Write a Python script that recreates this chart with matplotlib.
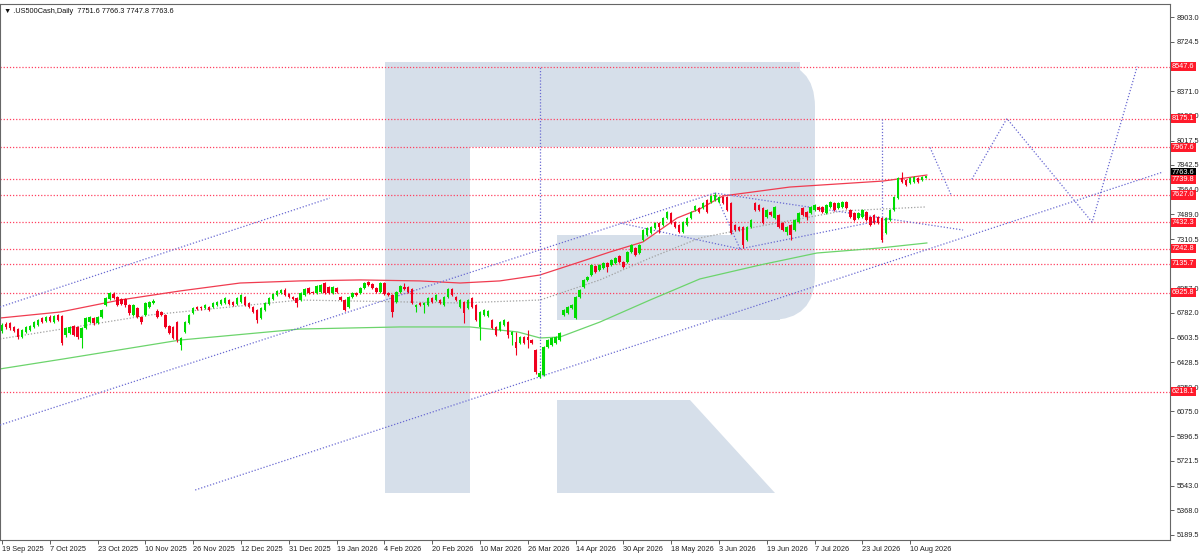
#!/usr/bin/python3

import matplotlib
matplotlib.use('Agg')
import matplotlib.pyplot as plt
from matplotlib.patches import Rectangle, Polygon, FancyBboxPatch
from matplotlib.transforms import Affine2D, blended_transform_factory


# daily candles, one per trading day starting 19 Sep 2025
opens = [
    6652, 6702, 6709, 6681, 6666, 6609, 6645, 6659, 6681, 6695,
    6745, 6724, 6752, 6716, 6767, 6760, 6623, 6638, 6688, 6681,
    6602, 6673, 6716, 6745, 6709, 6752, 6838, 6882, 6917, 6896,
    6882, 6882, 6838, 6767, 6817, 6752, 6767, 6824, 6853, 6795,
    6788, 6767, 6688, 6681, 6716, 6552, 6645, 6709, 6781, 6824,
    6824, 6817, 6824, 6824, 6838, 6846, 6853, 6874, 6860, 6846,
    6860, 6896, 6853, 6824, 6802, 6745, 6802, 6846, 6882, 6910,
    6924, 6946, 6917, 6896, 6889, 6874, 6910, 6960, 6932, 6924,
    6932, 6996, 6969, 6924, 6960, 6896, 6874, 6824, 6896, 6924,
    6924, 6960, 7003, 6989, 6960, 6932, 6996, 6924, 6910, 6860,
    6932, 6969, 6969, 6953, 6824, 6853, 6838, 6838, 6889, 6874,
    6874, 6838, 6896, 6953, 6896, 6824, 6860, 6817, 6889, 6838,
    6681, 6767, 6760, 6731, 6681, 6659, 6695, 6716, 6623, 6573,
    6566, 6609, 6609, 6587, 6516, 6322, 6337, 6537, 6552, 6566,
    6587, 6767, 6781, 6817, 6745, 6896, 6969, 7018, 7053, 7118,
    7089, 7104, 7139, 7125, 7139, 7190, 7147, 7147, 7218, 7247,
    7211, 7304, 7340, 7355, 7390, 7426, 7412, 7462, 7498, 7433,
    7412, 7362, 7412, 7462, 7519, 7534, 7534, 7591, 7577, 7591,
    7577, 7613, 7613, 7570, 7412, 7398, 7398, 7304, 7398, 7570,
    7555, 7534, 7469, 7505, 7462, 7484, 7426, 7362, 7412, 7376,
    7433, 7534, 7505, 7498, 7519, 7541, 7541, 7498, 7541, 7570,
    7534, 7541, 7577, 7519, 7498, 7462, 7469, 7505, 7469, 7484,
    7469, 7462, 7355, 7448, 7519, 7606, 7749, 7735, 7713, 7720,
    7749, 7735, 7751.6,
]
highs = [
    6709, 6716, 6716, 6688, 6673, 6666, 6688, 6695, 6724, 6738,
    6752, 6760, 6767, 6767, 6774, 6767, 6681, 6688, 6695, 6688,
    6681, 6752, 6760, 6752, 6760, 6810, 6896, 6932, 6932, 6903,
    6889, 6889, 6846, 6846, 6824, 6760, 6860, 6867, 6882, 6810,
    6795, 6774, 6695, 6688, 6724, 6609, 6724, 6774, 6824, 6831,
    6831, 6846, 6831, 6860, 6867, 6882, 6896, 6882, 6867, 6896,
    6917, 6903, 6860, 6831, 6810, 6824, 6860, 6896, 6924, 6946,
    6953, 6960, 6924, 6903, 6896, 6932, 6960, 6969, 6939, 6982,
    6989, 7003, 6975, 6975, 6969, 6903, 6882, 6903, 6932, 6932,
    6969, 7003, 7011, 6996, 6969, 7003, 7003, 6932, 6917, 6939,
    6982, 6996, 6975, 6960, 6846, 6860, 6860, 6896, 6896, 6917,
    6882, 6903, 6960, 6960, 6903, 6882, 6867, 6882, 6896, 6846,
    6795, 6810, 6802, 6738, 6688, 6724, 6738, 6724, 6652, 6645,
    6616, 6616, 6659, 6595, 6523, 6365, 6544, 6595, 6609, 6616,
    6645, 6810, 6831, 6846, 6903, 6953, 7025, 7046, 7132, 7125,
    7132, 7147, 7147, 7168, 7182, 7197, 7154, 7225, 7276, 7254,
    7276, 7383, 7398, 7405, 7433, 7433, 7469, 7512, 7505, 7441,
    7419, 7441, 7469, 7512, 7555, 7541, 7577, 7598, 7627, 7641,
    7620, 7620, 7620, 7577, 7419, 7405, 7405, 7405, 7455, 7577,
    7563, 7541, 7527, 7512, 7548, 7491, 7433, 7405, 7419, 7455,
    7505, 7541, 7512, 7548, 7563, 7548, 7548, 7563, 7584, 7577,
    7577, 7584, 7584, 7527, 7505, 7505, 7527, 7512, 7476, 7491,
    7476, 7469, 7469, 7527, 7620, 7756, 7792, 7742, 7756, 7763,
    7756, 7763, 7766.3,
]
lows = [
    6638, 6666, 6659, 6645, 6595, 6602, 6638, 6652, 6673, 6688,
    6709, 6716, 6716, 6709, 6724, 6552, 6609, 6630, 6616, 6595,
    6530, 6666, 6709, 6695, 6702, 6745, 6831, 6874, 6882, 6831,
    6838, 6824, 6767, 6760, 6745, 6702, 6760, 6817, 6846, 6745,
    6760, 6673, 6630, 6595, 6573, 6516, 6638, 6702, 6774, 6802,
    6802, 6810, 6795, 6817, 6831, 6838, 6846, 6838, 6831, 6838,
    6853, 6831, 6817, 6781, 6709, 6738, 6795, 6838, 6874, 6903,
    6917, 6903, 6889, 6874, 6824, 6867, 6903, 6917, 6917, 6917,
    6924, 6917, 6917, 6917, 6924, 6867, 6795, 6817, 6889, 6903,
    6917, 6953, 6975, 6953, 6924, 6924, 6910, 6903, 6752, 6853,
    6924, 6946, 6924, 6846, 6788, 6831, 6781, 6831, 6853, 6867,
    6846, 6831, 6889, 6903, 6867, 6817, 6709, 6810, 6817, 6724,
    6587, 6760, 6752, 6666, 6616, 6652, 6688, 6602, 6552, 6480,
    6559, 6559, 6530, 6559, 6344, 6315, 6330, 6530, 6544, 6559,
    6580, 6760, 6774, 6810, 6738, 6889, 6960, 7011, 7046, 7068,
    7082, 7097, 7075, 7118, 7132, 7139, 7104, 7139, 7211, 7190,
    7204, 7297, 7333, 7347, 7383, 7355, 7405, 7455, 7419, 7390,
    7355, 7355, 7405, 7455, 7512, 7498, 7527, 7498, 7570, 7584,
    7570, 7563, 7512, 7347, 7369, 7369, 7247, 7297, 7390, 7512,
    7512, 7419, 7462, 7476, 7455, 7390, 7369, 7340, 7304, 7369,
    7426, 7476, 7448, 7491, 7512, 7512, 7498, 7491, 7534, 7512,
    7527, 7534, 7527, 7462, 7441, 7455, 7462, 7441, 7405, 7419,
    7419, 7290, 7347, 7441, 7512, 7598, 7713, 7691, 7706, 7713,
    7713, 7727, 7747.8,
]
closes = [
    6695, 6681, 6673, 6652, 6609, 6659, 6681, 6688, 6716, 6731,
    6716, 6752, 6724, 6760, 6731, 6566, 6673, 6681, 6623, 6609,
    6673, 6745, 6752, 6709, 6752, 6802, 6889, 6924, 6889, 6838,
    6846, 6838, 6781, 6838, 6752, 6716, 6853, 6860, 6867, 6752,
    6767, 6681, 6638, 6602, 6587, 6602, 6716, 6767, 6817, 6810,
    6817, 6838, 6802, 6853, 6860, 6874, 6889, 6846, 6838, 6889,
    6910, 6838, 6824, 6788, 6731, 6817, 6853, 6889, 6917, 6939,
    6946, 6910, 6896, 6882, 6853, 6924, 6953, 6924, 6924, 6975,
    6982, 6924, 6924, 6969, 6932, 6874, 6802, 6896, 6924, 6910,
    6960, 6996, 6982, 6960, 6932, 6996, 6917, 6910, 6788, 6932,
    6975, 6953, 6932, 6853, 6838, 6838, 6853, 6889, 6860, 6910,
    6853, 6896, 6953, 6910, 6874, 6874, 6781, 6874, 6824, 6731,
    6788, 6802, 6795, 6673, 6623, 6716, 6731, 6623, 6645, 6530,
    6609, 6566, 6587, 6566, 6358, 6351, 6537, 6587, 6602, 6609,
    6638, 6802, 6824, 6838, 6896, 6946, 7018, 7039, 7125, 7075,
    7125, 7139, 7111, 7161, 7175, 7147, 7111, 7218, 7268, 7197,
    7268, 7376, 7390, 7398, 7426, 7398, 7462, 7505, 7426, 7398,
    7362, 7433, 7462, 7505, 7548, 7505, 7570, 7505, 7620, 7627,
    7613, 7570, 7519, 7355, 7376, 7376, 7268, 7398, 7448, 7519,
    7519, 7426, 7519, 7484, 7541, 7398, 7376, 7398, 7340, 7448,
    7498, 7484, 7469, 7541, 7555, 7519, 7505, 7555, 7577, 7519,
    7570, 7577, 7534, 7469, 7448, 7498, 7519, 7448, 7412, 7426,
    7426, 7304, 7462, 7519, 7613, 7749, 7720, 7699, 7749, 7756,
    7720, 7756, 7763.6,
]

date_labels = [
    '19 Sep 2025', '7 Oct 2025', '23 Oct 2025', '10 Nov 2025', '26 Nov 2025',
    '12 Dec 2025', '31 Dec 2025', '19 Jan 2026', '4 Feb 2026', '20 Feb 2026',
    '10 Mar 2026', '26 Mar 2026', '14 Apr 2026', '30 Apr 2026', '18 May 2026',
    '3 Jun 2026', '19 Jun 2026', '7 Jul 2026', '23 Jul 2026', '10 Aug 2026',
]
label_step = 12

price_ticks = [8903.0, 8724.5, 8371.0, 8196.0, 8017.5, 7842.5, 7664.0, 7489.0,
               7310.5, 6957.0, 6782.0, 6603.5, 6428.5, 6250.0, 6075.0, 5896.5,
               5721.5, 5543.0, 5368.0, 5189.5]

levels = [8547.6, 8175.1, 7967.6, 7739.8, 7627.0, 7432.3, 7242.8, 7135.7, 6925.8, 6218.1]
last_price = 7763.6

# envelope lines (bar index, price)
upper_x = [-0.5, 14.6, 29.6, 44.7, 59.8, 74.8, 89.9, 104.9, 115, 125, 135, 145.1,
           152.6, 160.9, 169.5, 175.2, 181, 197.8, 221.2, 232.2]
upper_y = [6745, 6788, 6874, 6939, 6996, 7011, 7018, 7011, 6996, 7011, 7053, 7147,
           7218, 7290, 7462, 7527, 7620, 7684, 7727, 7770]
lower_x = [-0.5, 15.3, 44.7, 74.8, 99.9, 117.5, 129.5, 135.1, 140.1, 150.1, 162.7,
           175.2, 190.3, 204.6, 220.4, 232.2]
lower_y = [6380, 6451, 6587, 6666, 6681, 6681, 6645, 6602, 6609, 6716, 6874,
           7025, 7125, 7211, 7247, 7283]
mid_x = [-0.5, 37.2, 74.8, 115, 135.1, 150.1, 162.7, 175.2, 187.8, 211.1, 231.7]
mid_y = [6595, 6767, 6874, 6853, 6874, 7018, 7175, 7319, 7390, 7513, 7541]

# analyst drawings: trend channel, wave marks, forecast
trend_lines = [
    ([-0.5, 82.3], [6824, 7605]),
    ([-0.5, 179], [5978, 7641]),
    ([48.5, 291.5], [5512, 7792]),
    ([155.2, 185.3], [7426, 7240]),
    ([179, 185.3], [7641, 7240]),
    ([185.3, 222.4], [7240, 7455]),
    ([179, 241.3], [7641, 7376]),
    ([135, 135], [6315, 8547.6]),
    ([221, 221], [7290, 8175.1]),
    ([233.0, 238.3], [7967.6, 7627.0]),
    ([243.5, 252.3, 273.7, 285.0], [7739.8, 8175.1, 7432.3, 8547.6]),
]

UP = '#00dc00'
DOWN = '#f0001e'
LEVEL = '#ff4060'
TREND = '#6a6ad2'
LOGO = '#d6dfea'
FS = 5.3

plt.rcParams['font.family'] = ['Liberation Sans', 'DejaVu Sans']

fig = plt.figure(figsize=(12, 5.55), dpi=100)
ax = fig.add_axes([0, 15 / 555, 1170 / 1200, 536 / 555])

# faded broker logo, drawn in picture pixels
pix = Affine2D().scale(1 / 1200, -1 / 555).translate(0, 1) + fig.transFigure
for patch in [
    Rectangle((385, 62), 85, 431),
    Rectangle((385, 62), 415, 85),
    FancyBboxPatch((730, 62), 85, 258, boxstyle='round,pad=0,rounding_size=45'),
    Rectangle((557, 235), 223, 85),
    Polygon([(557, 400), (690, 400), (775, 493), (557, 493)]),
]:
    patch.set_transform(pix)
    patch.set_facecolor(LOGO)
    patch.set_edgecolor('none')
    patch.set_zorder(0)
    ax.add_artist(patch)

for lv in levels:
    ax.axhline(lv, color=LEVEL, linestyle=(0, (1, 1.5)), linewidth=0.9, zorder=1)

ax.plot(upper_x, upper_y, color='#f03c50', linewidth=0.9, zorder=2)
ax.plot(lower_x, lower_y, color='#6cd46c', linewidth=0.9, zorder=2)
ax.plot(mid_x, mid_y, color='#a0a0a0', linestyle=(0, (1, 1.5)), linewidth=0.9, zorder=2)

for xs, ys in trend_lines:
    ax.plot(xs, ys, color=TREND, linestyle=(0, (1, 1.5)), linewidth=0.9, zorder=3)

idx = list(range(len(closes)))
colors = [UP if c >= o else DOWN for o, c in zip(opens, closes)]
ax.vlines(idx, lows, highs, colors=colors, linewidth=0.8, zorder=4)
bottoms = [min(o, c) for o, c in zip(opens, closes)]
heights = [max(abs(c - o), 5) for o, c in zip(opens, closes)]
ax.bar(idx, heights, bottom=bottoms, width=0.62, color=colors, linewidth=0, zorder=5)

ax.set_xlim(-0.5, 293.25)
ax.set_ylim(5153.6, 8996.2)

# axes in the terminal style
ax.yaxis.tick_right()
ax.set_yticks(price_ticks)
ax.set_yticklabels([f'{v:.1f}' for v in price_ticks])
ax.set_xticks([k * label_step for k in range(len(date_labels))])
ax.set_xticklabels(date_labels)
for lab in ax.get_xticklabels():
    lab.set_horizontalalignment('left')
ax.tick_params(axis='both', labelsize=FS, length=3, width=0.6, color='#444444',
               labelcolor='#222222', pad=1.5)
for sp in ax.spines.values():
    sp.set_color('#666666')
    sp.set_linewidth(0.8)

side = blended_transform_factory(ax.transAxes, ax.transData)
ax.text(1.0017, last_price + 25, f'{last_price:.1f}', transform=side, ha='left',
        va='center', fontsize=FS, color='white', clip_on=False, zorder=10,
        bbox=dict(boxstyle='square,pad=0.15', fc='black', ec='none'))
for lv in levels:
    ax.text(1.0017, lv, f'{lv:.1f}', transform=side, ha='left', va='center',
            fontsize=FS, color='white', clip_on=False, zorder=11,
            bbox=dict(boxstyle='square,pad=0.15', fc='#ff1a2a', ec='none'))

ax.text(0.003, 0.992, '\u25bc .US500Cash,Daily  7751.6 7766.3 7747.8 7763.6',
        transform=ax.transAxes, ha='left', va='top', fontsize=FS, color='#111111')

fig.savefig('out.png', dpi=100)
